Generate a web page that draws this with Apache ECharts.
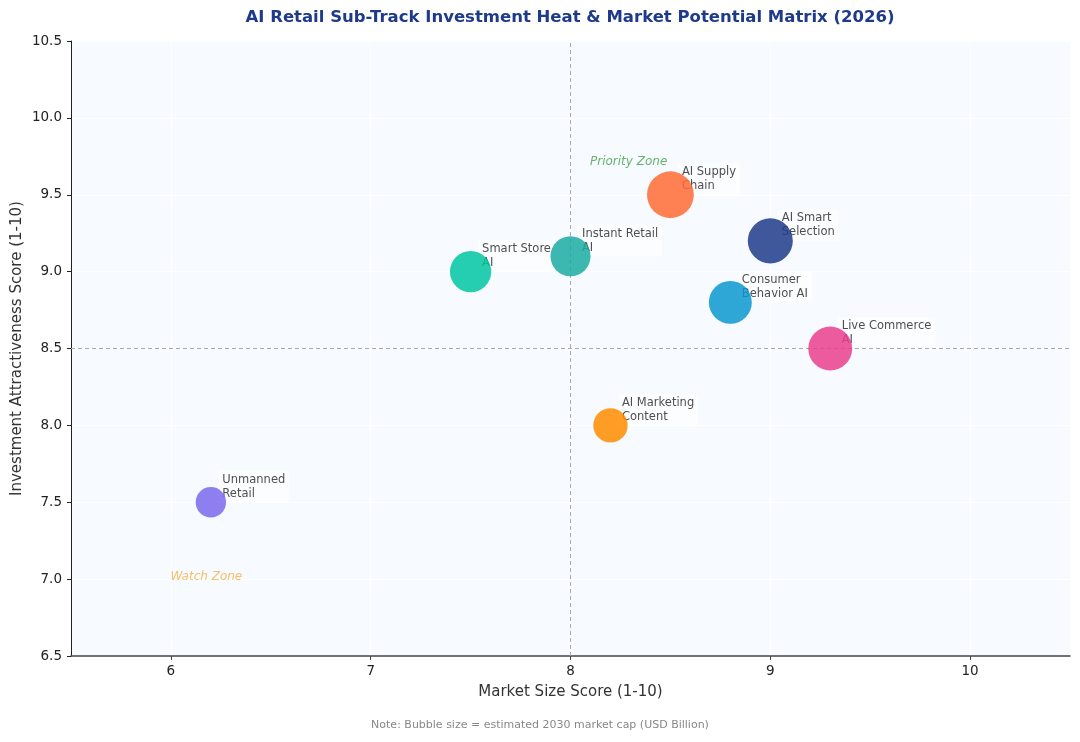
<!DOCTYPE html>
<html>
<head>
<meta charset="utf-8">
<script src="https://cdn.jsdelivr.net/npm/echarts@6/dist/echarts.min.js"></script>
<style>
	html, body { margin: 0; padding: 0; background: #fff; }
	#chart { width: 1080px; height: 742px; }
</style>
</head>
<body>
<div id="chart"></div>
<script>
// sub-tracks and their scores
var tracks = ['Unmanned\nRetail', 'Smart Store\nAI', 'Instant Retail\nAI', 'AI Marketing\nContent',
	'AI Supply\nChain', 'Consumer\nBehavior AI', 'AI Smart\nSelection', 'Live Commerce\nAI'];
var marketSize = [6.2, 7.5, 8.0, 8.2, 8.5, 8.8, 9.0, 9.3];
var investScore = [7.5, 9.0, 9.1, 8.0, 9.5, 8.8, 9.2, 8.5];
var marketCap = [46, 85, 80, 59, 109, 92, 101, 96]; // USD Billion, 2030 estimate
var colors = ['#7b68ee', '#00c5a2', '#1baca2', '#ff8c00', '#ff6b35', '#0b98d0', '#1e3a8a', '#ea3e8d'];

var xTicks = [6, 7, 8, 9, 10];
var refX = 8;
var refY = 8.5;

var zoneNames = ['Priority Zone', 'Watch Zone'];
var zonePos = [[8.1, 9.7], [6.0, 7.0]];
var zoneColors = ['#43a047', '#f5b041'];

window.onload = function () {
	"use strict";
	var chart = echarts.init(document.getElementById('chart'));
	var font = 'DejaVu Sans';

	var points = tracks.map(function (name, i) {
		return {
			name: name,
			value: [marketSize[i], investScore[i], marketCap[i]],
			itemStyle: { color: colors[i] }
		};
	});

	var zones = zoneNames.map(function (name, i) {
		return {
			name: name,
			value: zonePos[i],
			label: { color: zoneColors[i] }
		};
	});

	var option = {
		animation: false,
		textStyle: { fontFamily: font },
		graphic: [
			{
				type: 'text',
				x: 570,
				y: 9,
				style: {
					text: 'AI Retail Sub-Track Investment Heat & Market Potential Matrix (2026)',
					align: 'center',
					fill: '#1e3a8a',
					font: 'bold 16.5px "DejaVu Sans"'
				}
			},
			{
				type: 'text',
				x: 540,
				y: 720,
				style: {
					text: 'Note: Bubble size = estimated 2030 market cap (USD Billion)',
					align: 'center',
					fill: '#888',
					font: '11px "DejaVu Sans"'
				}
			}
		],
		grid: {
			left: 71,
			right: 10,
			top: 41,
			bottom: 86,
			outerBoundsMode: 'none',
			containLabel: false,
			show: true,
			backgroundColor: '#f7fbff',
			borderWidth: 0
		},
		xAxis: {
			type: 'value',
			min: 5.5,
			max: 10.5,
			name: 'Market Size Score (1-10)',
			nameLocation: 'middle',
			nameGap: 29,
			nameMoveOverlap: false,
			nameTextStyle: { fontSize: 15, color: '#333' },
			axisLine: { lineStyle: { color: '#444', width: 1.5 } },
			axisTick: { show: true, length: 4, customValues: xTicks, lineStyle: { color: '#444' } },
			axisLabel: { customValues: xTicks, fontSize: 13.5, color: '#222', margin: 8 },
			splitLine: { show: true, lineStyle: { color: '#ffffff', width: 1.2 } }
		},
		yAxis: {
			type: 'value',
			min: 6.5,
			max: 10.5,
			interval: 0.5,
			name: 'Investment Attractiveness Score (1-10)',
			nameLocation: 'middle',
			nameGap: 46,
			nameMoveOverlap: false,
			nameTextStyle: { fontSize: 15, color: '#333' },
			axisLine: { show: true, lineStyle: { color: '#222', width: 1 } },
			axisTick: { show: true, length: 4, lineStyle: { color: '#222' } },
			axisLabel: {
				fontSize: 13.5,
				color: '#222',
				margin: 9,
				formatter: function (v) { return v.toFixed(1); }
			},
			splitLine: { show: true, lineStyle: { color: '#ffffff', width: 1.2 } }
		},
		series: [
			{
				// quadrant divider lines
				type: 'scatter',
				z: 1,
				data: [],
				markLine: {
					silent: true,
					symbol: 'none',
					label: { show: false },
					lineStyle: { color: '#aaa', type: [4, 3], width: 1 },
					data: [{ xAxis: refX }, { yAxis: refY }]
				}
			},
			{
				// zone annotations
				type: 'scatter',
				z: 2,
				symbolSize: 1,
				itemStyle: { color: 'transparent' },
				silent: true,
				label: {
					show: true,
					position: [0, 4],
					align: 'left',
					verticalAlign: 'bottom',
					fontSize: 12,
					fontStyle: 'italic',
					formatter: '{b}'
				},
				data: zones
			},
			{
				// bubble labels, drawn below the bubbles
				type: 'scatter',
				z: 3,
				symbolSize: 1,
				itemStyle: { color: 'transparent' },
				silent: true,
				label: {
					show: true,
					position: [8, 1],
					align: 'left',
					verticalAlign: 'bottom',
					fontSize: 11.5,
					lineHeight: 14,
					color: '#222',
					backgroundColor: 'rgba(255,255,255,0.7)',
					borderRadius: 3,
					padding: [2, 4],
					formatter: '{b}'
				},
				data: points.map(function (p) { return { name: p.name, value: p.value }; })
			},
			{
				type: 'scatter',
				zlevel: 1,
				z: 4,
				symbolSize: function (v) { return 4.48 * Math.sqrt(v[2]); },
				itemStyle: { opacity: 0.85 },
				data: points
			}
		]
	};

	chart.setOption(option);
};
</script>
</body>
</html>
